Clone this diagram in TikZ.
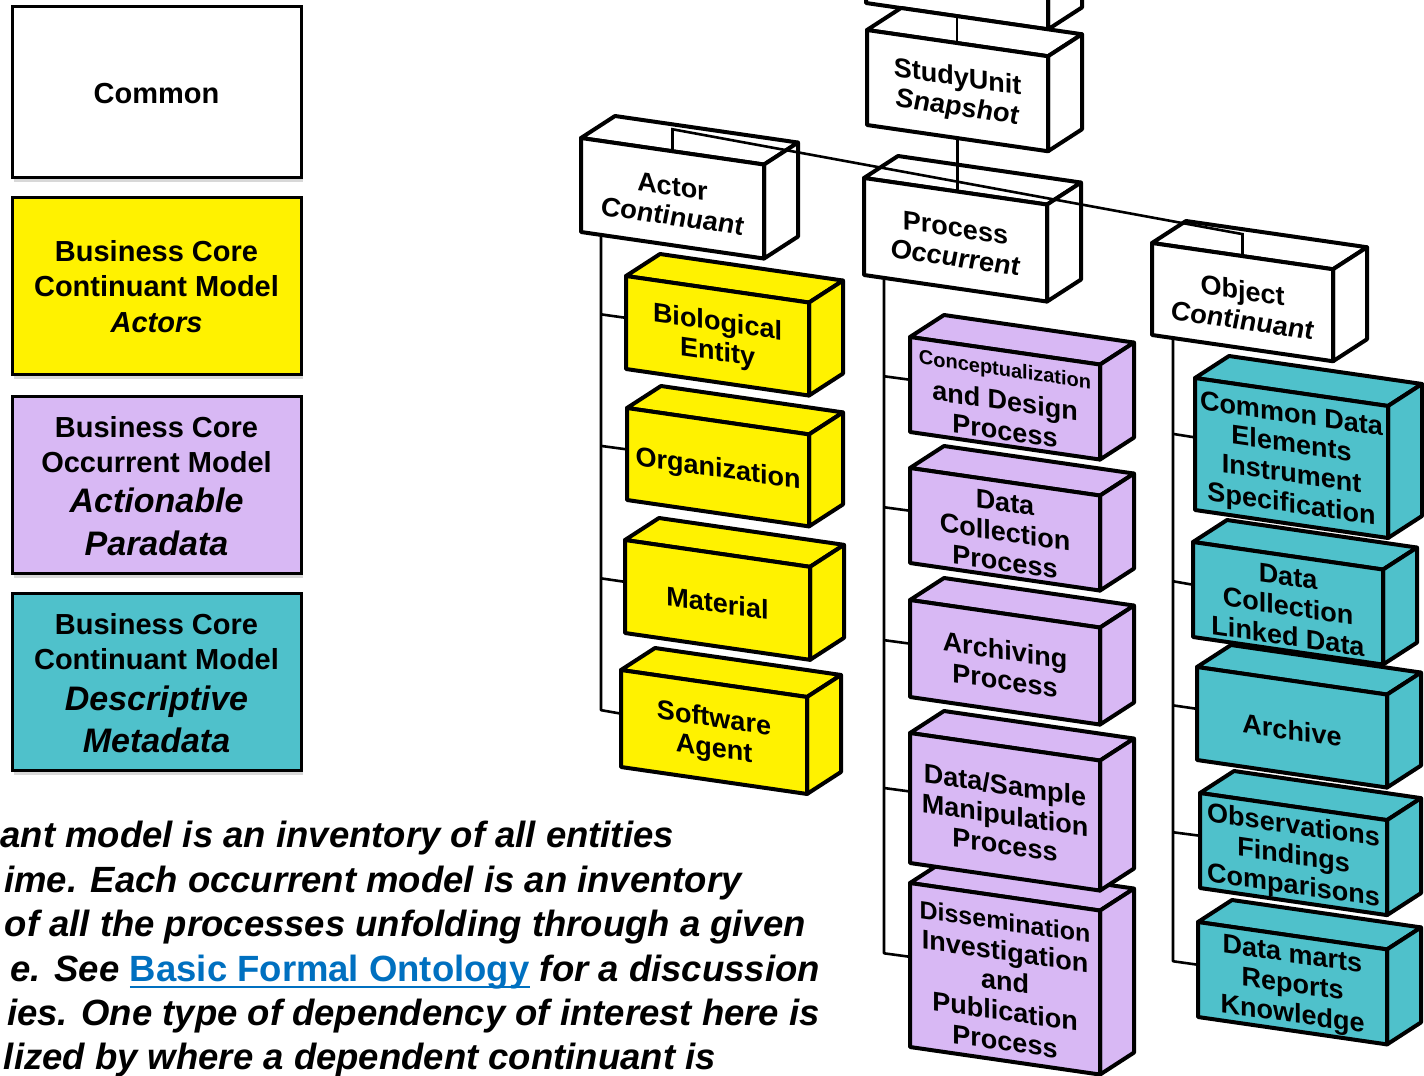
\documentclass[tikz,border=0pt]{standalone}
\usepackage{fontspec}
\setmainfont{Liberation Sans}
\usetikzlibrary{calc,shadows}

\definecolor{cubeyellow}{HTML}{FFF200}
\definecolor{cubepurple}{HTML}{D8B8F4}
\definecolor{cubeteal}{HTML}{4FC1CB}
\definecolor{linkblue}{HTML}{0070C0}

% slope of the front face's top and bottom edges
\newcommand\cslope{0.145}

% oblique box: name, x, y (front top-left), width, height, fill, label
\newcommand\cubebox[7]{%
  \pgfmathsetmacro\cbR{#2+#4}%
  \pgfmathsetmacro\cbT{#3+\cslope*#4}%
  \coordinate (#1-tl) at (#2,#3);
  \coordinate (#1-tr) at (\cbR,\cbT);
  \coordinate (#1-br) at (\cbR,\cbT+#5);
  \coordinate (#1-bl) at (#2,#3+#5);
  \filldraw[cubeedge,fill=#6] (#1-tl) -- ++(34,-22) -- ([shift={(34,-22)}]#1-tr) -- (#1-tr) -- cycle;
  \filldraw[cubeedge,fill=#6] (#1-tr) -- ([shift={(34,-22)}]#1-tr) -- ([shift={(34,-22)}]#1-br) -- (#1-br) -- cycle;
  \filldraw[cubeedge,fill=#6] (#1-tl) -- (#1-tr) -- (#1-br) -- (#1-bl) -- cycle;
  \coordinate (#1-w) at ($(#1-tl)!0.45!(#1-bl)$);
  \coordinate (#1-n) at ($(#1-tl)!0.5!(#1-tr)$);
  \coordinate (#1-nb) at ([shift={(0,-22)}]#1-n);
  \coordinate (#1-s) at ($(#1-bl)!0.5!(#1-br)$);
  \node[cubetext] (#1) at ($(#1-tl)!0.5!(#1-br)$) {#7};
}

\begin{document}
\begin{tikzpicture}[x=1pt,y=-1pt,
  cubeedge/.style={line width=4pt,line join=round},
  cubetext/.style={font=\bfseries\fontsize{27}{30}\selectfont,align=center,
    yslant=-0.145,inner sep=0pt,yshift=-3pt},
  conn/.style={line width=2.6pt},
  legendbox/.style={draw=black,line width=3pt,minimum width=289pt,inner sep=0pt,
    drop shadow={shadow xshift=2pt,shadow yshift=-5pt,opacity=0.3}},
  legendtext/.style={anchor=base,inner sep=0pt,font=\bfseries\fontsize{29}{35}\selectfont},
  legendital/.style={anchor=base,inner sep=0pt,font=\bfseries\itshape\fontsize{34}{42}\selectfont},
  paratext/.style={anchor=base east,inner sep=0pt,font=\bfseries\itshape\fontsize{36.5}{44}\selectfont}]

\clip (0,0) rectangle (1424,1076);
\fill[white] (0,0) rectangle (1424,1076);

% ---------- legend ----------
\node[legendbox,fill=white,minimum height=171pt] (lg-common) at (156.5,91.5) {};
\node[legendtext] (lg-common-t) at (156.5,103) {Common};

\node[legendbox,fill=cubeyellow,minimum height=177pt] (lg-actor) at (156.5,285.5) {};
\node[legendtext] (lg-actor-1) at (156.5,261) {Business Core};
\node[legendtext] (lg-actor-2) at (156.5,296) {Continuant Model};
\node[legendtext,font=\bfseries\itshape\fontsize{29}{35}\selectfont] (lg-actor-3) at (156.5,332) {Actors};

\node[legendbox,fill=cubepurple,minimum height=177pt] (lg-occ) at (156.5,484.5) {};
\node[legendtext] (lg-occ-1) at (156.5,437) {Business Core};
\node[legendtext] (lg-occ-2) at (156.5,472) {Occurrent Model};
\node[legendital] (lg-occ-3) at (156.5,512) {Actionable};
\node[legendital] (lg-occ-4) at (156.5,555) {Paradata};

\node[legendbox,fill=cubeteal,minimum height=177pt] (lg-obj) at (156.5,681.5) {};
\node[legendtext] (lg-obj-1) at (156.5,634) {Business Core};
\node[legendtext] (lg-obj-2) at (156.5,669) {Continuant Model};
\node[legendital] (lg-obj-3) at (156.5,710) {Descriptive};
\node[legendital] (lg-obj-4) at (156.5,752) {Metadata};

% ---------- paragraph ----------
\node[paratext] (p1) at (674,847) {ant model is an inventory of all entities};
\node[paratext] (p2) at (742,892) {ime. Each occurrent model is an inventory};
\node[paratext] (p3) at (806,936) {of all the processes unfolding through a given};
\node[paratext] (p4c) at (820,981) {\kern10pt for a discussion};
\node[paratext,font=\bfseries\fontsize{36.5}{44}\selectfont,text=linkblue] (link) at (p4c.base west) {Basic Formal Ontology};
\node[paratext] (p4a) at (link.base west) {e. See\kern10pt};
\draw[linkblue,line width=2.5pt] ([yshift=-6pt]link.base west) -- ([yshift=-6pt]link.base east);
\node[paratext] (p5) at (820,1025) {ies. One type of dependency of interest here is};
\node[paratext] (p6) at (716,1069) {lized by where a dependent continuant is};

% ---------- actor column ----------
\cubebox{software}{621}{670}{186}{97}{cubeyellow}{Software\\Agent}
\cubebox{material}{625}{540}{185}{93}{cubeyellow}{Material}
\cubebox{org}{627}{408}{182}{92}{cubeyellow}{Organization}
\cubebox{bio}{626}{276}{183}{93}{cubeyellow}{Biological\\Entity}

% ---------- process column ----------
\cubebox{diss}{910}{883}{190}{164}{cubepurple}{{\fontsize{25}{30}\selectfont Dissemination}\\Investigation\\and\\Publication\\Process}
\cubebox{dsm}{910}{733}{190}{130}{cubepurple}{Data/Sample\\Manipulation\\Process}
\cubebox{arch}{910}{600}{190}{97}{cubepurple}{Archiving\\Process}
\cubebox{dcoll}{910}{468}{190}{95}{cubepurple}{Data\\Collection\\Process}
\cubebox{concept}{910}{337}{190}{95}{cubepurple}{{\fontsize{20}{30}\selectfont Conceptualization}\\[4pt]and Design\\Process}

% ---------- object column ----------
\cubebox{marts}{1198}{922}{189}{95}{cubeteal}{Data marts\\Reports\\Knowledge}
\cubebox{obs}{1200}{793}{187}{95}{cubeteal}{Observations\\Findings\\Comparisons}
\cubebox{archive}{1197}{667}{190}{93}{cubeteal}{Archive}
\cubebox{dcld}{1193}{542}{190}{95}{cubeteal}{Data\\Collection\\Linked Data}
\cubebox{cde}{1195}{378}{193}{132}{cubeteal}{Common Data\\Elements\\Instrument\\Specification}

% ---------- heads ----------
\cubebox{topbox}{866}{-97}{182}{100}{white}{}
\cubebox{study}{867}{30}{181}{95}{white}{StudyUnit\\\textit{Snapshot}}
\cubebox{actor}{581}{138}{183}{94}{white}{Actor\\\textit{Continuant}}
\cubebox{process}{864}{178}{183}{97}{white}{Process\\\textit{Occurrent}}
\cubebox{object}{1152}{243}{181}{92}{white}{Object\\\textit{Continuant}}

% ---------- connectors ----------
\draw[conn] (topbox-s) -- (topbox-s |- study-n);
\draw[conn] (study-s) -- (study-s |- process-n);
\draw[conn] (actor-n) -- (actor-nb) -- (object-nb) -- (object-n);

\coordinate (actor-j) at ($(actor-bl)+(20,3)$);
\coordinate (process-j) at ($(process-bl)+(20,3)$);
\coordinate (object-j) at ($(object-bl)+(21,3)$);

% trunks with slightly sloped stubs into each child box
\draw[conn,line join=round] (actor-j) -- ([yshift=3.5pt]actor-j |- software-w) -- (software-w);
\foreach \b in {bio,org,material}
  \draw[conn] ([yshift=3.5pt]actor-j |- \b-w) -- (\b-w);

\draw[conn,line join=round] (process-j) -- ([yshift=3.5pt]process-j |- diss-w) -- (diss-w);
\foreach \b in {concept,dcoll,arch,dsm}
  \draw[conn] ([yshift=3.5pt]process-j |- \b-w) -- (\b-w);

\draw[conn,line join=round] (object-j) -- ([yshift=3.5pt]object-j |- marts-w) -- (marts-w);
\foreach \b in {cde,dcld,archive,obs}
  \draw[conn] ([yshift=3.5pt]object-j |- \b-w) -- (\b-w);

\end{tikzpicture}
\end{document}
